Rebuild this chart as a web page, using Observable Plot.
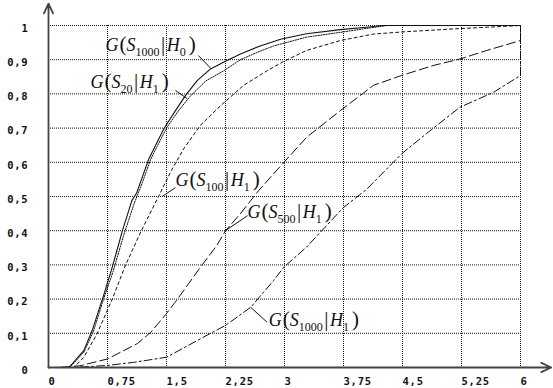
<!DOCTYPE html>
<html><head><meta charset="utf-8">
<script src="https://cdn.jsdelivr.net/npm/d3@7"></script>
<script src="https://cdn.jsdelivr.net/npm/@observablehq/plot@0.6"></script>
<style>body{margin:0;background:#fff}</style>
</head><body><div id="chart"></div>
<script>
// ---- tick values and labels ----
const xTicks = [0, 0.75, 1.5, 2.25, 3, 3.75, 4.5, 5.25, 6];
const xTickLabels = ["0", "0,75", "1,5", "2,25", "3", "3,75", "4,5", "5,25", "6"];
const yTicks = [0, 0.1, 0.2, 0.3, 0.4, 0.5, 0.6, 0.7, 0.8, 0.9, 1];
const yTickLabels = ["0", "0,1", "0,2", "0,3", "0,4", "0,5", "0,6", "0,7", "0,8", "0,9", "1"];

// ---- curves ----
const s1000h0X = [0, 0.26, 0.45, 0.555, 0.70, 0.81, 0.94, 1.06, 1.12, 1.275, 1.466, 1.614, 1.74, 1.89, 2.06, 2.23, 2.44, 2.69, 2.95, 3.28, 3.71, 4.04, 4.25, 6];
const s1000h0Y = [0, 0, 0.05, 0.108, 0.21, 0.293, 0.40, 0.488, 0.51, 0.61, 0.698, 0.751, 0.795, 0.839, 0.873, 0.893, 0.917, 0.94, 0.96, 0.976, 0.988, 0.995, 1, 1];

const s20h1X = [0, 0.27, 0.45, 0.57, 0.70, 0.82, 0.96, 1.09, 1.2, 1.3, 1.5, 1.65, 1.8, 2.0, 2.23, 2.44, 2.69, 2.86, 3.28, 3.71, 4.0, 4.3, 6];
const s20h1Y = [0, 0, 0.045, 0.105, 0.20, 0.28, 0.39, 0.48, 0.545, 0.61, 0.70, 0.75, 0.793, 0.838, 0.868, 0.90, 0.925, 0.94, 0.966, 0.98, 0.99, 1, 1];

const s100h1X = [0, 0.32, 0.45, 0.62, 0.81, 0.98, 1.18, 1.42, 1.55, 1.72, 1.93, 2.19, 2.48, 2.78, 2.99, 3.28, 3.71, 4.13, 4.55, 5.15, 5.58, 6];
const s100h1Y = [0, 0, 0.03, 0.1, 0.2, 0.3, 0.4, 0.51, 0.571, 0.64, 0.708, 0.766, 0.825, 0.868, 0.895, 0.927, 0.956, 0.975, 0.982, 0.99, 0.995, 1];

const s500h1X = [0, 0.1, 0.4, 0.75, 1.13, 1.30, 1.49, 1.64, 1.93, 2.14, 2.25, 2.44, 2.67, 2.86, 3.28, 3.71, 4.13, 4.49, 4.89, 5.23, 5.57, 6, 6];
const s500h1Y = [0, 0, 0.005, 0.025, 0.07, 0.103, 0.155, 0.20, 0.293, 0.357, 0.40, 0.45, 0.517, 0.566, 0.673, 0.751, 0.825, 0.854, 0.883, 0.902, 0.927, 0.956, 1];

const s1000h1X = [0, 0.3, 0.75, 1.08, 1.5, 2.06, 2.25, 2.57, 2.86, 2.99, 3.28, 3.75, 4.04, 4.49, 4.8, 5.23, 5.66, 6, 6];
const s1000h1Y = [0, 0, 0.006, 0.015, 0.03, 0.10, 0.123, 0.176, 0.254, 0.293, 0.352, 0.468, 0.52, 0.625, 0.683, 0.761, 0.805, 0.854, 1];

// ---- annotations ----
const labelNames = ["G(S1000|H0)", "G(S20|H1)", "G(S100|H1)", "G(S500|H1)", "G(S1000|H1)"];
const labelSub = ["1000", "20", "100", "500", "1000"];
const labelHyp = ["0", "1", "1", "1", "1"];
const labelX = [0.725, 0.534, 1.614, 2.53, 2.80];
const labelY = [0.942, 0.833, 0.547, 0.453, 0.137];
const leaderX1 = [1.907, 1.614, 1.614, 2.53, 2.78];
const leaderY1 = [0.912, 0.81, 0.526, 0.444, 0.132];
const leaderX2 = [2.07, 1.763, 1.445, 2.25, 2.57];
const leaderY2 = [0.873, 0.786, 0.50, 0.40, 0.176];

const axisYTop = 1.064;
const axisXEnd = 6.39;

const toRows = (xs, ys) => xs.map((x, i) => ({x, y: ys[i]}));
const labels = labelNames.map((t, i) => ({text: t, x: labelX[i], y: labelY[i]}));
const leaders = labelNames.map((t, i) => ({x1: leaderX1[i], y1: leaderY1[i], x2: leaderX2[i], y2: leaderY2[i]}));

const ink = "#111";
const tickFont = {fontFamily: "DejaVu Sans Mono", fontWeight: "bold", fontSize: 10.5};

const chart = Plot.plot({
  width: 553, height: 388,
  marginLeft: 48, marginRight: 33, marginTop: 25, marginBottom: 21,
  x: {domain: [0, 6], label: null},
  y: {domain: [0, 1], label: null},
  style: {background: "#fff", color: ink, overflow: "visible"},
  marks: [
    Plot.ruleX(xTicks.filter(d => d > 0), {stroke: "#111", strokeWidth: 1, strokeDasharray: "1,1"}),
    Plot.ruleY(yTicks.filter(d => d > 0), {stroke: "#111", strokeWidth: 1, strokeDasharray: "1,1"}),
    Plot.line(toRows(s1000h1X, s1000h1Y), {x: "x", y: "y", stroke: ink, strokeWidth: 1, strokeDasharray: "8,3,2,3"}),
    Plot.line(toRows(s500h1X, s500h1Y), {x: "x", y: "y", stroke: ink, strokeWidth: 1, strokeDasharray: "9,4"}),
    Plot.line(toRows(s100h1X, s100h1Y), {x: "x", y: "y", stroke: ink, strokeWidth: 1, strokeDasharray: "3,3"}),
    Plot.line(toRows(s20h1X, s20h1Y), {x: "x", y: "y", stroke: ink, strokeWidth: 1, strokeDasharray: "1.3,1.3"}),
    Plot.line(toRows(s1000h0X, s1000h0Y), {x: "x", y: "y", stroke: ink, strokeWidth: 1.1}),
    Plot.arrow([{x1: 0, y1: 0, x2: 0, y2: axisYTop}], {x1: "x1", y1: "y1", x2: "x2", y2: "y2", stroke: "#444", strokeWidth: 1.8, headLength: 9, headAngle: 50}),
    Plot.arrow([{x1: 0, y1: 0, x2: axisXEnd, y2: 0}], {x1: "x1", y1: "y1", x2: "x2", y2: "y2", stroke: "#444", strokeWidth: 1.8, headLength: 9, headAngle: 50}),
    Plot.link(leaders, {x1: "x1", y1: "y1", x2: "x2", y2: "y2", stroke: ink, strokeWidth: 1}),
    Plot.text(labels, {x: "x", y: "y", text: "text", textAnchor: "start", fontFamily: "Liberation Serif", fontSize: 18, fill: ink}),
    Plot.axisX(xTicks, {tickSize: 0, tickPadding: 10, textAnchor: "start", label: null,
      tickFormat: d => xTickLabels[xTicks.indexOf(d)], ...tickFont}),
    Plot.axisY(yTicks, {tickSize: 0, tickPadding: 20, dy: 3, label: null,
      tickFormat: d => yTickLabels[yTicks.indexOf(d)], ...tickFont})
  ]
});

// rich text for the curve labels (italic letters, subscripts)
chart.querySelectorAll('g[aria-label="text"] text').forEach((el, i) => {
  const NS = "http://www.w3.org/2000/svg";
  el.textContent = "";
  const parts = [
    {t: "G", italic: true},
    {t: "(", size: 21, dx: 1},
    {t: "S", italic: true},
    {t: labelSub[i], size: 12, dy: 5},
    {t: "|", size: 21, dy: -5, dx: 1.5},
    {t: "H", italic: true, dx: 1.5},
    {t: labelHyp[i], size: 12, dy: 5},
    {t: ")", size: 21, dy: -5, dx: 3}
  ];
  for (const p of parts) {
    const ts = document.createElementNS(NS, "tspan");
    ts.textContent = p.t;
    if (p.italic) ts.setAttribute("font-style", "italic");
    if (p.size) ts.setAttribute("font-size", p.size);
    if (p.dy) ts.setAttribute("dy", p.dy);
    if (p.dx) ts.setAttribute("dx", p.dx);
    el.appendChild(ts);
  }
});

document.getElementById("chart").appendChild(chart);
chart.querySelectorAll('[aria-label="x-axis tick label"] text, [aria-label="y-axis tick label"] text').forEach(t => t.setAttribute("letter-spacing", "0.8"));
</script></body></html>
